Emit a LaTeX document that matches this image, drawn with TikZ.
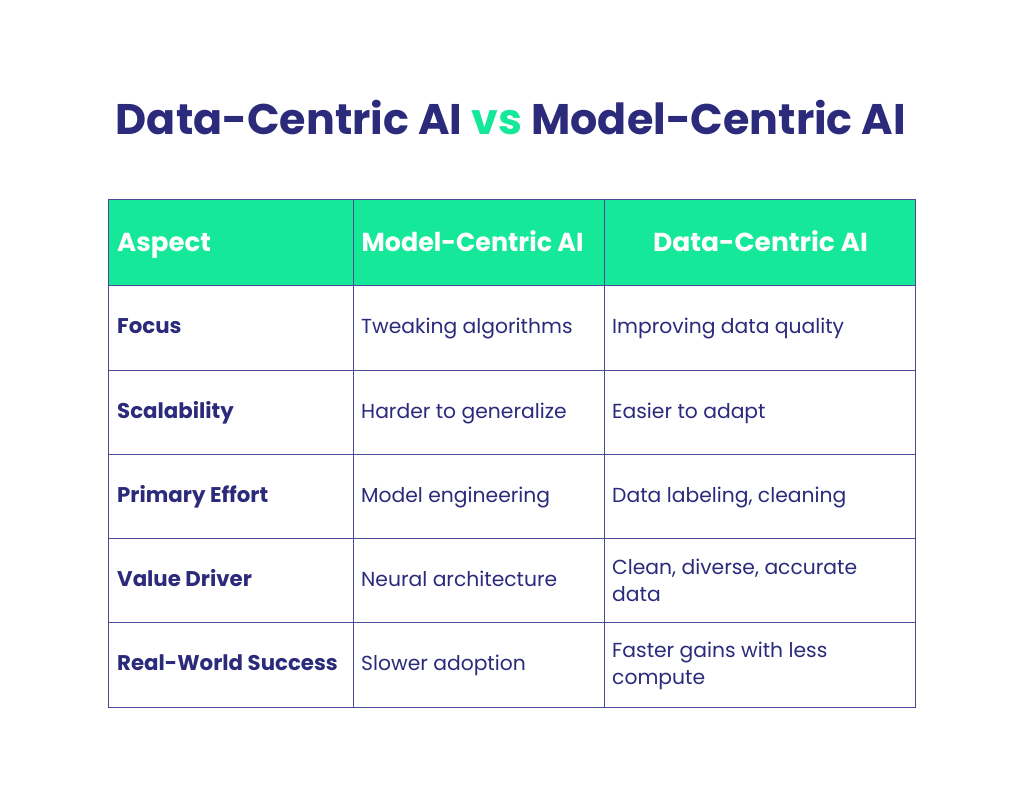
\documentclass[tikz,border=0pt]{standalone}
\usepackage{graphicx}
\usepackage{fontspec}
\setmainfont{Poppins}
\definecolor{navy}{HTML}{2B2A7B}
\definecolor{mint}{HTML}{16E89A}
\definecolor{grid}{HTML}{4B4A94}
\begin{document}
\begin{tikzpicture}[x=1pt,y=-1pt,
  title/.style={font=\fontsize{42.8}{50}\selectfont\bfseries, text=navy, inner sep=0pt},
  headtxt/.style={font=\fontsize{26}{30}\selectfont\bfseries, text=white, inner sep=0pt, anchor=base west},
  labeltxt/.style={font=\fontsize{21.3}{27}\selectfont\bfseries, text=navy, inner sep=0pt, anchor=base west},
  celltxt/.style={font=\fontsize{20.3}{27}\selectfont, text=navy, inner sep=0pt, anchor=base west, align=left},
  gridline/.style={draw=grid, line width=1pt}
]
\useasboundingbox[fill=white] (0,0) rectangle (1024,786);
% title
\node[title, anchor=base] (ttl) at (511,135) {Data-Centric AI \textcolor{mint}{vs} Model-Centric AI};
% header fill
\fill[mint] (108,200) rectangle (915,285);
% grid
\draw[gridline] (108,200) rectangle (915,707);
\foreach \yy in {285,370,454,538,622} \draw[gridline] (108,\yy) -- (915,\yy);
\draw[gridline] (353,200) -- (353,707);
\draw[gridline] (604,200) -- (604,707);
% header
\node[headtxt] (h1) at (117,251.7) {Aspect};
\node[headtxt] (h2) at (361.5,251.7) {\scalebox{0.975}[1]{Model-Centric AI}};
\node[headtxt, anchor=base] (h3) at (760.5,251.7) {\scalebox{1.02}[1]{Data-Centric AI}};
% rows
\node[labeltxt] (r1a) at (117,333) {Focus};
\node[celltxt] (r1b) at (361,333) {Tweaking algorithms};
\node[celltxt] (r1c) at (612,333) {Improving data quality};
\node[labeltxt] (r2a) at (117,418) {Scalability};
\node[celltxt] (r2b) at (361,418) {Harder to generalize};
\node[celltxt] (r2c) at (612,418) {Easier to adapt};
\node[labeltxt] (r3a) at (117,502) {Primary Effort};
\node[celltxt] (r3b) at (361,502) {Model engineering};
\node[celltxt] (r3c) at (612,502) {Data labeling, cleaning};
\node[labeltxt] (r4a) at (117,586) {Value Driver};
\node[celltxt] (r4b) at (361,586) {Neural architecture};
\node[celltxt] (r4c) at (612,601) {Clean, diverse, accurate\\data};
\node[labeltxt] (r5a) at (117,670) {Real-World Success};
\node[celltxt] (r5b) at (361,670) {Slower adoption};
\node[celltxt] (r5c) at (612,684.5) {Faster gains with less\\compute};
\end{tikzpicture}
\end{document}
